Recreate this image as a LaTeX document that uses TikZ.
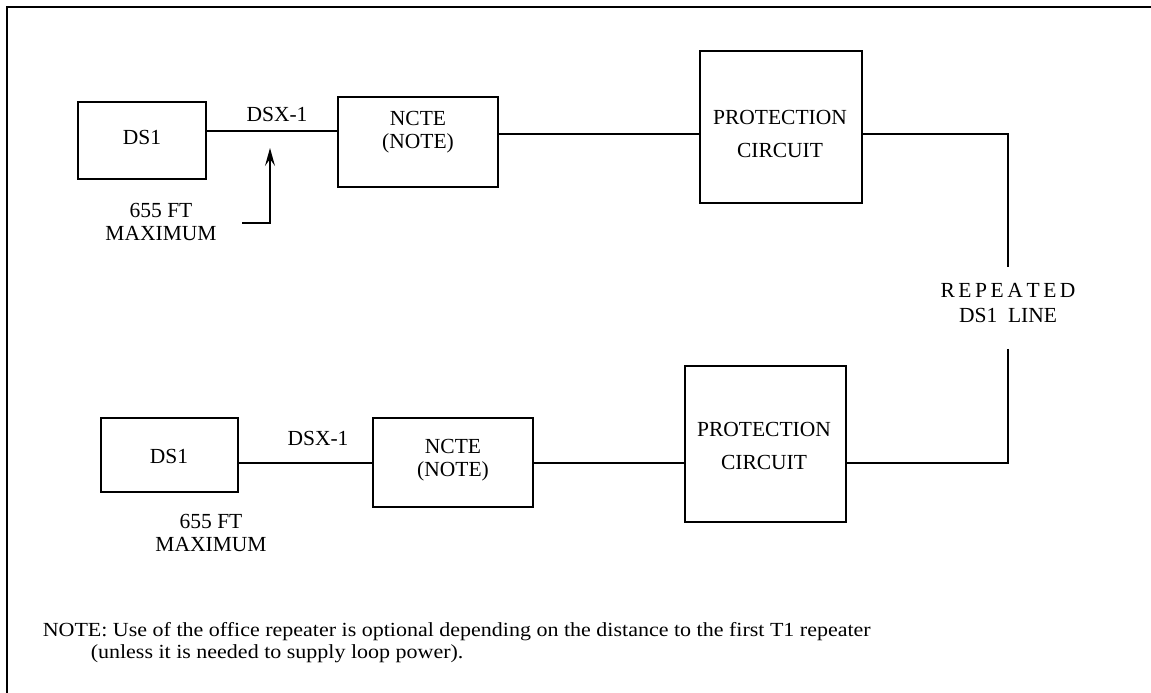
\documentclass[tikz,border=0pt]{standalone}
\usepackage{fontspec}
\setmainfont{Liberation Serif}
\newfontfamily\notefont[FakeStretch=1.1]{Liberation Serif}
\usetikzlibrary{arrows.meta}

\begin{document}
\begin{tikzpicture}[%
    x=1pt, y=-1pt,              % One unit per pixel, y runs downwards
    >={Stealth[length=18pt,width=10pt,inset=7pt]}, % Thin pointer tip
    line width=1.5pt,           % Default weight of all lines
    ]
% -------------------------------------------------
% A few box and text styles
\tikzset{
  base/.style={draw, rectangle, line width=1.8pt, inner sep=0pt},
  unit/.style={base, minimum width=#1},
  lbl/.style={align=center, inner sep=0pt,
    font=\fontsize{21.5}{23}\selectfont},
  wide/.style={lbl, font=\fontsize{21.5}{33}\selectfont},
  % Connector line styles
  norm/.style={draw, line width=1.5pt},
  ptr/.style={->, draw, line width=1.5pt},
  it/.style={align=left, inner sep=0pt, font=\notefont\fontsize{20}{22}\selectfont}
}
\useasboundingbox (0,0) rectangle (1151,693);
\draw [line width=2pt] (1151,7.5) -| (7,693);
% -------------------------------------------------
% Upper chain
\node [unit=128, minimum height=77] (ds1a) at (142,140.5) {};
\node [lbl] (ds1a-t) at (142,137) {DS1};
\node [unit=160, minimum height=90] (nctea) at (418,142) {};
\node [lbl] (nctea-t) at (418,132.5) {NCTE\\(NOTE)};
\node [unit=162, minimum height=152] (prota) at (781,127) {};
\node [wide] (prota-t) at (780,133.5) {PROTECTION\\CIRCUIT};
\node [lbl] (dsxa) at (277,114) {DSX-1};
\node [lbl] (fta) at (161,222) {655 FT\\MAXIMUM};

% Lower chain
\node [unit=137, minimum height=74] (ds1b) at (169.5,455) {};
\node [lbl] (ds1b-t) at (169,456) {DS1};
\node [unit=160, minimum height=89] (ncteb) at (453,462.5) {};
\node [lbl] (ncteb-t) at (453,460) {NCTE\\(NOTE)};
\node [unit=161, minimum height=156] (protb) at (765.5,444) {};
\node [wide] (protb-t) at (764,446) {PROTECTION\\CIRCUIT};
\node [lbl] (dsxb) at (318,438) {DSX-1};
\node [lbl] (ftb) at (211,533) {655 FT\\MAXIMUM};

% Line between the two ends
\node [lbl, font=\fontsize{21.5}{25}\selectfont] (rep) at (1008,303.5)
  {R\,E\,P\,E\,A\,T\,E\,D\\DS1\ \ LINE};

% -------------------------------------------------
% Connectors
\coordinate (ya) at (0,131);
\coordinate (yb) at (0,134);
\coordinate (yc) at (0,463);
\draw [norm] (ds1a.east |- ya) -- (nctea.west |- ya);
\draw [norm] (nctea.east |- yb) -- (prota.west |- yb);
\draw [norm] (prota.east |- yb) -| ([yshift=16pt]rep.north);
\draw [norm] ([yshift=-25pt]rep.south) |- (protb.east |- yc);
\draw [norm] (ds1b.east |- yc) -- (ncteb.west |- yc);
\draw [norm] (ncteb.east |- yc) -- (protb.west |- yc);

\coordinate (taila) at (242,223);
\coordinate (tipa) at (270,148);
\draw [ptr] (taila) -| (tipa);

% -------------------------------------------------
\node [it, anchor=north west] (note) at (42,622)
  {NOTE: Use of the office repeater is optional depending on the distance to the first T1 repeater\\
  \hspace*{48pt}(unless it is needed to supply loop power).};
\end{tikzpicture}
\end{document}
